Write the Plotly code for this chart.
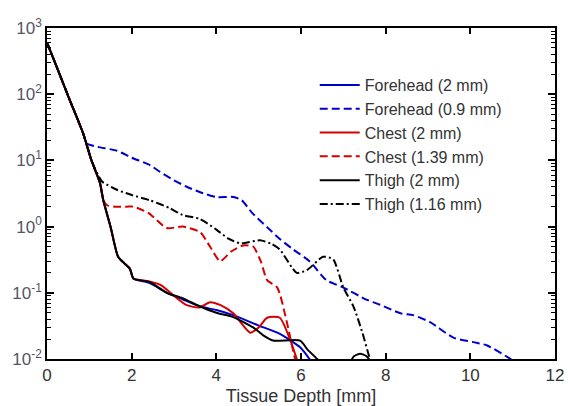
import plotly.graph_objects as go

# ---- data ----
common_x = [0, 0.25, 0.54, 0.85, 1.05, 1.25, 1.33]
common_y = [600, 240, 81, 26, 10, 4.6, 2.5]

thigh2_x = common_x + [1.5, 1.68, 1.85, 1.96, 2.04, 2.43, 2.83, 3.2, 3.62, 4.0, 4.4, 4.87, 5.1, 5.34, 5.98, 6.15, 6.38, 6.5, 7.1, 7.25, 7.4, 7.55, 7.7]
thigh2_y = common_y + [1.0, 0.35, 0.27, 0.23, 0.165, 0.145, 0.10, 0.083, 0.062, 0.05, 0.043, 0.030, 0.023, 0.019, 0.019, 0.014, 0.01, 0.008, 0.008, 0.011, 0.012, 0.011, 0.008]

fore2_x = common_x + [1.5, 1.68, 1.85, 1.96, 2.04, 2.43, 2.83, 3.2, 3.62, 4.0, 4.4, 5.0, 5.5, 5.98, 6.2, 6.3]
fore2_y = common_y + [1.0, 0.35, 0.27, 0.23, 0.165, 0.14, 0.10, 0.08, 0.062, 0.055, 0.046, 0.032, 0.024, 0.015, 0.01, 0.008]

chest2_x = common_x + [1.5, 1.68, 1.85, 1.96, 2.04, 2.4, 2.7, 3.0, 3.3, 3.6, 3.85, 4.1, 4.4, 4.8, 5.0, 5.2, 5.5, 5.75, 5.9, 5.95]
chest2_y = common_y + [1.0, 0.35, 0.27, 0.23, 0.165, 0.15, 0.13, 0.09, 0.065, 0.06, 0.072, 0.065, 0.049, 0.025, 0.03, 0.042, 0.042, 0.019, 0.01, 0.008]

fore09_x = [0, 0.25, 0.54, 0.85, 0.94, 1.2, 1.65, 2.0, 2.43, 2.67, 3.0, 3.3, 3.62, 4.0, 4.4, 4.6, 4.85, 5.2, 5.5, 5.82, 6.2, 6.6, 7.0, 7.56, 7.87, 8.35, 8.65, 9.05, 9.6, 10.07, 10.4, 10.95, 11.05]
fore09_y = [600, 240, 81, 26, 18, 16, 14, 11, 8.5, 6.7, 5.0, 4.0, 3.3, 2.8, 2.8, 2.5, 1.6, 0.98, 0.65, 0.45, 0.3, 0.155, 0.12, 0.078, 0.066, 0.049, 0.046, 0.036, 0.021, 0.018, 0.016, 0.01, 0.009]

chest139_x = common_x + [1.42, 1.6, 1.88, 2.04, 2.4, 2.83, 3.2, 3.62, 3.85, 4.09, 4.35, 4.63, 4.87, 5.05, 5.2, 5.44, 5.67, 5.86, 5.95]
chest139_y = common_y + [2.1, 2.0, 2.0, 2.0, 1.6, 0.95, 1.0, 0.82, 0.5, 0.3, 0.42, 0.52, 0.5, 0.3, 0.155, 0.12, 0.035, 0.01, 0.007]

thigh116_x = [0, 0.25, 0.54, 0.85, 1.05, 1.18, 1.3, 1.65, 2.0, 2.43, 2.9, 3.2, 3.62, 4.0, 4.3, 4.56, 5.03, 5.3, 5.5, 5.9, 6.14, 6.52, 6.76, 7.0, 7.24, 7.45, 7.63, 7.7]
thigh116_y = [600, 240, 81, 26, 10, 6.5, 4.8, 3.6, 3.0, 2.5, 1.9, 1.5, 1.3, 0.9, 0.65, 0.56, 0.62, 0.55, 0.45, 0.2, 0.22, 0.35, 0.32, 0.12, 0.062, 0.025, 0.01, 0.008]

x_ticks = [0, 2, 4, 6, 8, 10, 12]
y_ticks = [1e-2, 1e-1, 1e0, 1e1, 1e2, 1e3]
y_ticktext = ["10<sup>-2</sup>", "10<sup>-1</sup>", "10<sup>0</sup>", "10<sup>1</sup>", "10<sup>2</sup>", "10<sup>3</sup>"]

BLUE = "#0000CC"
RED = "#D40000"
BLACK = "#000000"

series = [
    ("Forehead (2 mm)", fore2_x, fore2_y, BLUE, "solid"),
    ("Forehead (0.9 mm)", fore09_x, fore09_y, BLUE, "8px,4px"),
    ("Chest (2 mm)", chest2_x, chest2_y, RED, "solid"),
    ("Chest (1.39 mm)", chest139_x, chest139_y, RED, "8px,4px"),
    ("Thigh (2 mm)", thigh2_x, thigh2_y, BLACK, "solid"),
    ("Thigh (1.16 mm)", thigh116_x, thigh116_y, BLACK, "8px,3px,2px,3px"),
]

fig = go.Figure()
for i, (name, xs, ys, col, dash) in enumerate(series):
    fig.add_trace(go.Scatter(x=xs, y=ys, mode="lines", name=name, legendgroup=f"g{i}",
                             line=dict(color=col, width=2, dash=dash, shape="spline", smoothing=0.6)))

fig.update_layout(
    width=571, height=406,
    margin=dict(l=47, r=16, t=28, b=47),
    paper_bgcolor="white", plot_bgcolor="white",
    font=dict(family="Liberation Sans, Arial, sans-serif", color="#333333"),
    showlegend=True,
    legend=dict(x=0.527, y=0.879, xanchor="left", yanchor="top",
                bgcolor="rgba(255,255,255,0)", font=dict(size=16, color="#333333"),
                tracegroupgap=0, itemwidth=40),
    xaxis=dict(range=[0, 12], tickvals=x_ticks, ticks="inside", ticklen=6, tickwidth=1.5,
               tickcolor="black",
               showline=True, linecolor="black", linewidth=1.5, mirror="ticks",
               showgrid=False, zeroline=False, automargin=False,
               tickfont=dict(size=17, color="#333333"),
               title=dict(text="Tissue Depth [mm]", font=dict(size=18, color="#333333"), standoff=6)),
    yaxis=dict(type="log", range=[-2, 3], tickmode="array", tickvals=y_ticks, ticktext=y_ticktext,
               ticks="inside", ticklen=7, tickwidth=1.5, tickcolor="black",
               showline=True, linecolor="black", linewidth=1.5,
               mirror="ticks", showgrid=False, zeroline=False, automargin=False,
               tickfont=dict(size=17, color="#555566"),
               minor=dict(ticks="inside", ticklen=4, dtick="D1", tickwidth=1,
                          tickcolor="black", showgrid=False)),
)

fig.write_html("out.html")
